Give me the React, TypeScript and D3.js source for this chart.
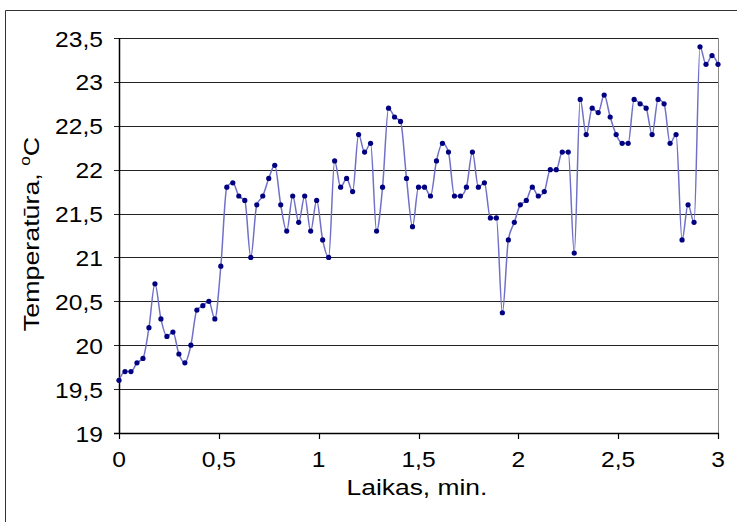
import React from "react";
import * as d3 from "d3";

const temps: number[] = [
  19.6, 19.7, 19.7, 19.8, 19.85, 20.2, 20.7, 20.3, 20.1, 20.15,
  19.9, 19.8, 20.0, 20.4, 20.45, 20.5, 20.3, 20.9, 21.8, 21.85,
  21.7, 21.65, 21.0, 21.6, 21.7, 21.9, 22.05, 21.6, 21.3, 21.7,
  21.4, 21.7, 21.3, 21.65, 21.2, 21.0, 22.1, 21.8, 21.9, 21.75,
  22.4, 22.2, 22.3, 21.3, 21.8, 22.7, 22.6, 22.55, 21.9, 21.35,
  21.8, 21.8, 21.7, 22.1, 22.3, 22.2, 21.7, 21.7, 21.8, 22.2,
  21.8, 21.85, 21.45, 21.45, 20.37, 21.2, 21.4, 21.6, 21.65, 21.8,
  21.7, 21.75, 22.0, 22.0, 22.2, 22.2, 21.05, 22.8, 22.4, 22.7,
  22.65, 22.85, 22.6, 22.4, 22.3, 22.3, 22.8, 22.75, 22.7, 22.4,
  22.8, 22.75, 22.3, 22.4, 21.2, 21.6, 21.4, 23.4, 23.2, 23.3,
  23.2,
];
const timeStep = 0.03;
const xTicks: number[] = [0, 0.5, 1, 1.5, 2, 2.5, 3];
const yTicks: number[] = [19, 19.5, 20, 20.5, 21, 21.5, 22, 22.5, 23, 23.5];
const xTitle = "Laikas, min.";
const yTitle = "Temperatūra, ";

const W = 737;
const H = 522;
const left = 119;
const right = 718;
const top = 38;
const bottom = 433;

const fmt = (v: number) => String(v).replace(".", ",");

export default function App() {
  const x = d3.scaleLinear().domain([0, 3]).range([left, right]);
  const y = d3.scaleLinear().domain([19, 23.5]).range([bottom, top]);
  const pts = temps.map((t, i) => [x(i * timeStep), y(t)] as [number, number]);
  const line = d3.line<[number, number]>().curve(d3.curveMonotoneX)(pts) || "";
  const font = "'Liberation Sans', Arial, sans-serif";
  return (
    <svg width={W} height={H} style={{ position: "absolute", left: 0, top: 0 }} fontFamily={font}>
      <rect x={0} y={0} width={W} height={H} fill="#fff" />
      <path d={`M5.5,${H} V10.5 H${W}`} fill="none" stroke="#333" strokeWidth={1} />
      {yTicks.map((t) => (
        <g key={"y" + t}>
          <line x1={left - 5} x2={right} y1={Math.round(y(t)) + 0.5} y2={Math.round(y(t)) + 0.5} stroke="#222" strokeWidth={1} />
          <text transform={`translate(${left - 16},${y(t) + 8.5}) scale(1.12,1)`} fontSize={22} textAnchor="end" fill="#000">{fmt(t)}</text>
        </g>
      ))}
      <line x1={right + 0.5} x2={right + 0.5} y1={top} y2={bottom} stroke="#888" strokeWidth={1} />
      <line x1={left + 0.5} x2={left + 0.5} y1={top} y2={bottom} stroke="#000" strokeWidth={1.5} />
      <line x1={left - 5} x2={right + 1} y1={bottom + 0.5} y2={bottom + 0.5} stroke="#000" strokeWidth={1.5} />
      {xTicks.map((t) => (
        <g key={"x" + t}>
          <line x1={Math.round(x(t)) + 0.5} x2={Math.round(x(t)) + 0.5} y1={bottom} y2={bottom + 6} stroke="#000" strokeWidth={1.2} />
          <text transform={`translate(${x(t)},${bottom + 34}) scale(1.12,1)`} fontSize={22} textAnchor="middle" fill="#000">{fmt(t)}</text>
        </g>
      ))}
      <path d={line} fill="none" stroke="#7070c8" strokeWidth={1.5} />
      {pts.map((p, i) => (
        <circle key={i} cx={p[0]} cy={p[1]} r={2.6} fill="#000080" />
      ))}
      <text transform="translate(417,495) scale(1.2,1)" fontSize={22} textAnchor="middle" fill="#000">{xTitle}</text>
      <text transform={`translate(38.5,234) rotate(-90) scale(1.22,1)`} fontSize={22} textAnchor="middle" fill="#000">
        {yTitle}
        <tspan fontSize={14} dy={-9}>o</tspan>
        <tspan dy={9}>C</tspan>
      </text>
    </svg>
  );
}
